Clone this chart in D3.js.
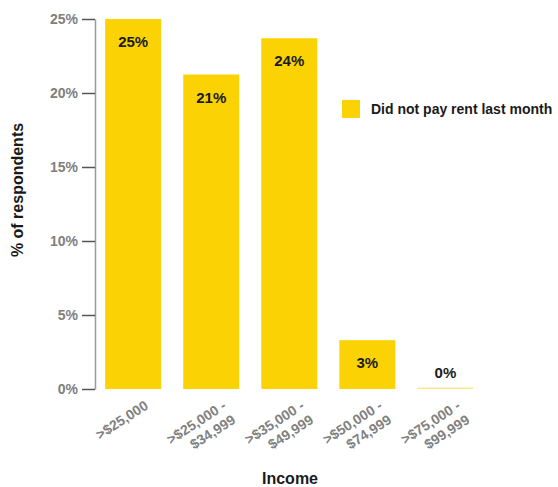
<!DOCTYPE html>
<html><head><meta charset="utf-8">
<script src="https://cdn.jsdelivr.net/npm/d3@7"></script>
<style>
body{margin:0;background:#fff;}
text{font-family:"Liberation Sans",Arial,sans-serif;}
</style></head>
<body><svg id="c" width="558" height="487"></svg>
<script>
const categories = [[">$25,000"], [">$25,000 -", "$34,999"], [">$35,000 -", "$49,999"], [">$50,000 -", "$74,999"], [">$75,000 -", "$99,999"]];
const values = [25.0, 21.25, 23.7, 3.3, 0.1];
const valueLabels = ["25%", "21%", "24%", "3%", "0%"];
const yTicks = [0, 5, 10, 15, 20, 25];
const seriesName = "Did not pay rent last month";

const svg = d3.select("#c");
const color = "#fbd304";
const y = d3.scaleLinear().domain([0, 25]).range([389, 19]);
const x = d3.scaleBand().domain(d3.range(categories.length)).range([95, 483.6]).paddingInner(0.282).paddingOuter(0.13);

// y axis
const yAxis = svg.append("g").attr("transform", "translate(95,0)")
  .call(d3.axisLeft(y).tickValues(yTicks).tickFormat(d => d + "%").tickSize(13).tickSizeOuter(0).tickPadding(4));
yAxis.select(".domain").attr("stroke", "#999").attr("stroke-width", 1.5);
yAxis.selectAll(".tick line").attr("stroke", "#555").attr("stroke-width", 1.5);
yAxis.selectAll(".tick text").attr("fill", "#808080").attr("font-size", 14).attr("font-weight", "bold")
  .attr("font-family", "Liberation Sans, Arial, sans-serif");

// bars
svg.append("g").selectAll("rect").data(values).join("rect")
  .attr("x", (d, i) => x(i)).attr("width", x.bandwidth())
  .attr("y", d => y(d)).attr("height", d => Math.max(1.5, y(0) - y(d)))
  .attr("fill", (d, i) => i === 4 ? "#fde88a" : color);

// value labels
svg.append("g").selectAll("text").data(values).join("text")
  .attr("x", (d, i) => x(i) + x.bandwidth() / 2)
  .attr("y", d => (y(0) - y(d) > 30) ? y(d) + 28 : y(d) - 10)
  .attr("text-anchor", "middle").attr("font-size", 15).attr("font-weight", "bold").attr("fill", "#1a1a1a")
  .text((d, i) => valueLabels[i]);

// x tick labels
const xl = svg.append("g").selectAll("g").data(categories).join("g")
  .attr("transform", (d, i) => `translate(${x(i) + x.bandwidth() / 2 + 16},${408}) rotate(-33)`);
xl.each(function (lines) {
  const t = d3.select(this).append("text").attr("text-anchor", "end").attr("font-size", 14)
    .attr("font-weight", "bold").attr("fill", "#808080");
  lines.forEach((l, j) => t.append("tspan").attr("x", 0).attr("dy", j === 0 ? 0 : 17).text(l));
});

// axis titles
svg.append("text").attr("x", 290).attr("y", 484).attr("text-anchor", "middle")
  .attr("font-size", 16).attr("font-weight", "bold").attr("fill", "#1a1a1a").text("Income");
svg.append("text").attr("transform", "translate(23,190) rotate(-90)").attr("text-anchor", "middle")
  .attr("font-size", 16).attr("font-weight", "bold").attr("fill", "#1a1a1a").text("% of respondents");

// legend
const lg = svg.append("g").attr("transform", "translate(342,100)");
lg.append("rect").attr("width", 18).attr("height", 18).attr("fill", color);
lg.append("text").attr("x", 29).attr("y", 14).attr("font-size", 14).attr("font-weight", "bold")
  .attr("fill", "#1a1a1a").text(seriesName);
</script></body></html>
